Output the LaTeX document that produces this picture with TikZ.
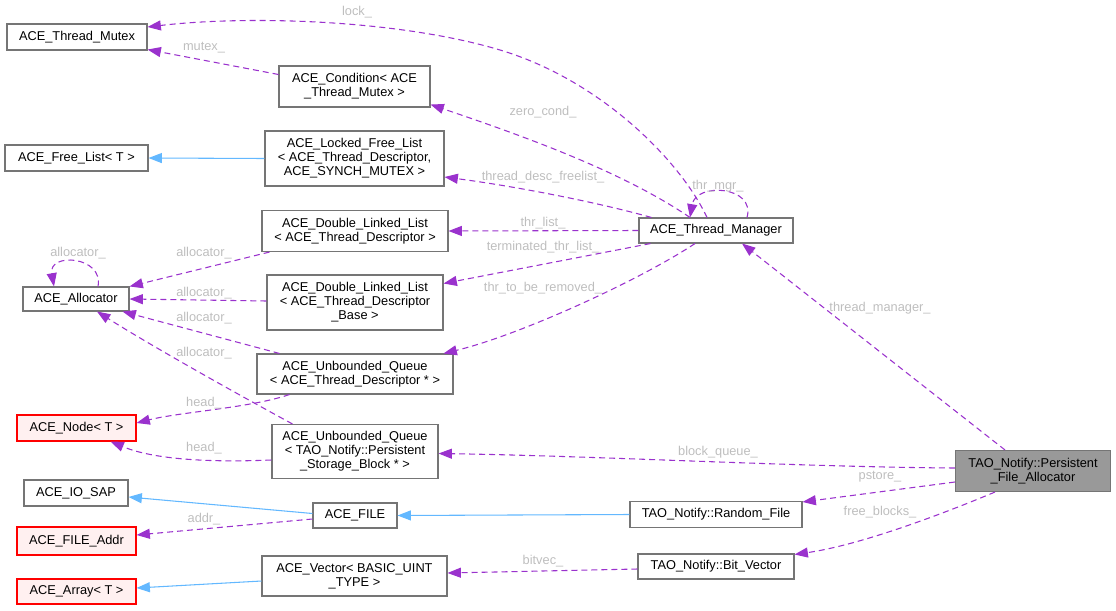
\documentclass[tikz,border=0pt]{standalone}
\usepackage{fontspec}
\setmainfont{Liberation Sans}
\usetikzlibrary{arrows.meta,calc}
\definecolor{nodeborder}{HTML}{757575}
\definecolor{rel}{HTML}{9A32CD}
\definecolor{inh}{HTML}{63B8FF}
\definecolor{lbl}{HTML}{BEBEBE}
\definecolor{redborder}{HTML}{FF0000}
\definecolor{redfill}{HTML}{FFF0F0}
\definecolor{mainfill}{HTML}{999999}
\begin{document}
\begin{tikzpicture}[x=0.75pt,y=-0.75pt,
  box/.style={draw=nodeborder, line width=0.8pt, fill=white, align=center, inner sep=0pt,
              font=\fontsize{9.6}{10.5}\selectfont},
  redbox/.style={box, draw=redborder, fill=redfill},
  mainbox/.style={box, fill=mainfill},
  sz/.style 2 args={minimum width=#1*0.75pt, minimum height=#2*0.75pt},
  uses/.style={draw=rel, line width=0.8pt, dash pattern=on 4.5pt off 3pt,
               -{Triangle[length=10pt,width=7.5pt]}},
  inherits/.style={draw=inh, line width=0.8pt, -{Triangle[length=10pt,width=7.5pt]}},
  lab/.style={text=lbl, font=\fontsize{9.6}{10.5}\selectfont, inner sep=0pt}]
\useasboundingbox (0,0) rectangle (1116,610);

% nodes
\node[box, sz={140}{26}] (mutex) at (77,37) {ACE\_Thread\_Mutex};
\node[box, sz={151}{41}] (cond) at (354.5,86.5) {ACE\_Condition< ACE\\\_Thread\_Mutex >};
\node[box, sz={143}{26}] (freelist) at (76.5,158) {ACE\_Free\_List< T >};
\node[box, sz={179}{55}] (locked) at (354.5,158.5) {ACE\_Locked\_Free\_List\\< ACE\_Thread\_Descriptor,\\ACE\_SYNCH\_MUTEX >};
\node[box, sz={186}{41}] (dll) at (355,231) {ACE\_Double\_Linked\_List\\< ACE\_Thread\_Descriptor >};
\node[box, sz={106}{24}] (alloc) at (76,299) {ACE\_Allocator};
\node[box, sz={176}{55}] (dllb) at (355,302.5) {ACE\_Double\_Linked\_List\\< ACE\_Thread\_Descriptor\\\_Base >};
\node[box, sz={196}{40}] (uq) at (355,374) {ACE\_Unbounded\_Queue\\< ACE\_Thread\_Descriptor * >};
\node[redbox, sz={119}{26}] (acenode) at (76.5,428) {ACE\_Node< T >};
\node[box, sz={166}{54}] (uq2) at (355,451.5) {ACE\_Unbounded\_Queue\\< TAO\_Notify::Persistent\\\_Storage\_Block * >};
\node[box, sz={104}{26}] (iosap) at (76,493) {ACE\_IO\_SAP};
\node[box, sz={84}{25}] (file) at (355,515.5) {ACE\_FILE};
\node[redbox, sz={119}{28}] (addr) at (76.5,541) {ACE\_FILE\_Addr};
\node[box, sz={185}{40}] (vec) at (354.5,576) {ACE\_Vector< BASIC\_UINT\\\_TYPE >};
\node[redbox, sz={119}{25}] (arr) at (76.5,591.5) {ACE\_Array< T >};
\node[box, sz={154}{25}] (tm) at (716,230.5) {ACE\_Thread\_Manager};
\node[mainbox, sz={155}{41}] (pfa) at (1033,471) {TAO\_Notify::Persistent\\\_File\_Allocator};
\node[box, sz={172}{26}] (rf) at (716,514.5) {TAO\_Notify::Random\_File};
\node[box, sz={156}{25}] (bv) at (716,566.5) {TAO\_Notify::Bit\_Vector};

% inheritance
\draw[inherits] (locked.west) -- (freelist.east);
\draw[inherits] (rf.west) -- (file.east);
\draw[inherits] ($(file.west)+(0,-2)$) -- ($(iosap.east)+(0,4)$);
\draw[inherits] ($(vec.west)+(0,5)$) -- ($(arr.east)+(0,-3.5)$);

% usage relations
\draw[uses] ($(tm.north)+(-9,0)$) .. controls (680,160) and (600,80) .. (500,50)
            .. controls (400,20) and (250,15) .. ($(mutex.east)+(0,-10)$);
\draw[uses] ($(cond.west)+(0,-12)$) -- ($(mutex.south east)+(0,-1)$);
\draw[uses] ($(tm.north)+(-26,0)$) .. controls (620,170) and (520,135) .. ($(cond.south east)+(0,-3)$);
\draw[uses] ($(tm.north west)+(13,0)$) .. controls (600,203) and (520,187) .. ($(locked.east)+(0,18.5)$);
\draw[uses] (tm.west) -- (dll.east);
\draw[uses] ($(tm.south west)+(12,0)$) -- ($(dllb.east)+(0,-19)$);
\draw[uses] ($(tm.south)+(-21,0)$) .. controls (640,280) and (520,335) .. ($(uq.north east)+(-10,0)$);
\draw[uses] ($(tm.north)+(31,0)$) .. controls (756,186) and (696,182) .. ($(tm.north)+(-26,0)$);
\draw[uses] ($(alloc.north)+(22,0)$) .. controls (104,256) and (48,252) .. ($(alloc.north)+(-22,0)$);
\draw[uses] ($(dll.south west)+(8,0)$) -- (alloc.north east);
\draw[uses] ($(dllb.west)+(0,-1.5)$) -- (alloc.east);
\draw[uses] ($(uq.north west)+(23,0)$) -- ($(alloc.south east)+(-7,0)$);
\draw[uses] ($(uq2.north west)+(21,0)$) .. controls (230,390) and (150,345) .. ($(alloc.south)+(21,0)$);
\draw[uses] ($(uq.south west)+(33,0)$) .. controls (250,408) and (180,412) .. ($(acenode.east)+(0,-5)$);
\draw[uses] ($(uq2.west)+(0,8.5)$) .. controls (200,463) and (150,458) .. ($(acenode.south east)+(-26,0)$);
\draw[uses] ($(pfa.west)+(0,-3)$) .. controls (800,467) and (600,456) .. ($(uq2.east)+(0,2)$);
\draw[uses] ($(pfa.north)+(-28,0)$) -- ($(tm.south)+(26,0)$);
\draw[uses] ($(pfa.west)+(0,11)$) -- ($(rf.north east)+(0,1)$);
\draw[uses] ($(pfa.south)+(-38,0)$) .. controls (940,515) and (860,545) .. ($(bv.north east)+(0,1)$);
\draw[uses] ($(file.west)+(0,3.5)$) -- ($(addr.east)+(0,-6)$);
\draw[uses] ($(bv.west)+(0,2.5)$) -- ($(vec.east)+(0,-3)$);

% labels
\node[lab] (l1) at (357,12) {lock\_};
\node[lab] (l2) at (204,48) {mutex\_};
\node[lab] (l3) at (543,112) {zero\_cond\_};
\node[lab] (l4) at (543,177) {thread\_desc\_freelist\_};
\node[lab] (l5) at (543,223) {thr\_list\_};
\node[lab] (l6) at (543,247) {terminated\_thr\_list\_};
\node[lab] (l7) at (543,288) {thr\_to\_be\_removed\_};
\node[lab] (l8) at (718,186) {thr\_mgr\_};
\node[lab] (l9) at (78,253) {allocator\_};
\node[lab] (l10) at (204,253) {allocator\_};
\node[lab] (l11) at (204,293) {allocator\_};
\node[lab] (l12) at (204,318) {allocator\_};
\node[lab] (l13) at (204,353) {allocator\_};
\node[lab] (l14) at (204,403) {head\_};
\node[lab] (l15) at (204,448) {head\_};
\node[lab] (l16) at (204,519) {addr\_};
\node[lab] (l17) at (718,452) {block\_queue\_};
\node[lab] (l18) at (880,308) {thread\_manager\_};
\node[lab] (l19) at (880,477) {pstore\_};
\node[lab] (l20) at (880,512) {free\_blocks\_};
\node[lab] (l21) at (543,561) {bitvec\_};
\end{tikzpicture}
\end{document}
